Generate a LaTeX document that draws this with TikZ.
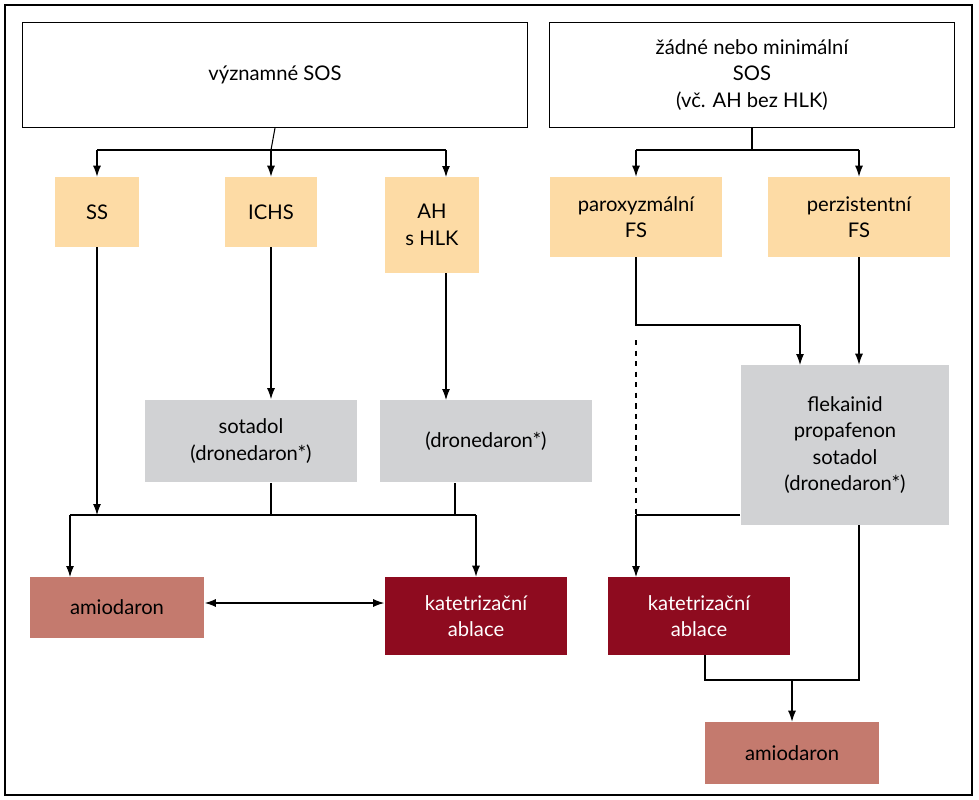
\documentclass[tikz,border=0pt]{standalone}
\usepackage{fontspec}
\setmainfont{Lato}
\usetikzlibrary{arrows.meta,calc}
\definecolor{orangebox}{HTML}{FDDBA5}
\definecolor{graybox}{HTML}{D1D2D4}
\definecolor{salmonbox}{HTML}{C47A6E}
\definecolor{redbox}{HTML}{8E0B1F}
\begin{document}
\begin{tikzpicture}[
    x=0.02cm, y=-0.02cm,
    every node/.style={align=center, inner sep=0pt, font=\fontsize{11.5}{15}\selectfont},
    head/.style={draw, fill=white, line width=0.6pt},
    group/.style={fill=orangebox},
    drug/.style={fill=graybox},
    amio/.style={fill=salmonbox},
    ablace/.style={fill=redbox, text=white},
    link/.style={line width=0.6pt},
    arr/.style={link, -{Latex[length=2.2mm,width=1.6mm]}}
]
\useasboundingbox (0,0) rectangle (979,800);
\draw[line width=0.6pt] (5,5) rectangle (972,795);
% top boxes
\node[head, minimum width=10.12cm, minimum height=2.1cm] (vyzn) at (275,75) {významné SOS};
\node[head, minimum width=8.1cm, minimum height=2.1cm] (zadne) at (752,75) {žádné nebo minimální\\SOS\\(vč. AH bez HLK)};
% groups
\node[group, minimum width=1.7cm, minimum height=1.4cm] (ss) at (97,212) {SS};
\node[group, minimum width=1.86cm, minimum height=1.4cm] (ichs) at (271,212) {ICHS};
\node[group, minimum width=1.9cm, minimum height=1.92cm] (ah) at (432,225) {AH\\s HLK};
\node[group, minimum width=3.44cm, minimum height=1.6cm] (parox) at (636,217) {paroxyzmální\\FS};
\node[group, minimum width=3.64cm, minimum height=1.6cm] (perz) at (859,217) {perzistentní\\FS};
% drugs
\node[drug, minimum width=4.24cm, minimum height=1.66cm] (sotadol) at (251,441) {sotadol\\(dronedaron*)};
\node[drug, minimum width=4.24cm, minimum height=1.66cm] (drone) at (486,441) {(dronedaron*)};
\node[drug, minimum width=4.18cm, minimum height=3.2cm] (flek) at (845,445) {flekainid\\propafenon\\sotadol\\(dronedaron*)};
% results
\node[amio, minimum width=3.5cm, minimum height=1.22cm] (amioL) at (117,607) {amiodaron};
\node[ablace, minimum width=3.66cm, minimum height=1.56cm] (ablL) at (476,616) {katetrizační\\ablace};
\node[ablace, minimum width=3.66cm, minimum height=1.56cm] (ablR) at (699,616) {katetrizační\\ablace};
\node[amio, minimum width=3.5cm, minimum height=1.24cm] (amioR) at (792,753) {amiodaron};
% junctions
\coordinate (j1) at (271,150);
\coordinate (j2) at (752,150);
\coordinate (j3) at (636,325);
\coordinate (j4) at (97,515);
\coordinate (j5) at (636,515);
\coordinate (j6) at (792,680);
% left branch
\draw[link] (vyzn.south) -- (j1);
\draw[link] (97,150) -- (446,150);
\draw[arr] (97,150) -- (ss.north);
\draw[arr] (j1) -- (ichs.north);
\draw[arr] (446,150) -- (446,177);
\draw[arr] (ss.south) -- (j4);
\draw[arr] (ichs.south) -- (sotadol.north -| ichs.south);
\draw[arr] (446,273) -- (446,400);
\draw[link] (sotadol.south -| ichs.south) -- (271,515);
\draw[link] (455,483) -- (455,515);
\draw[link] (70,515) -- (476,515);
\draw[arr] (70,515) -- (70,577);
\draw[arr] (476,515) -- (ablL.north);
\draw[link, {Latex[length=2.2mm,width=1.6mm]}-{Latex[length=2.2mm,width=1.6mm]}] (amioL.east |- 0,603) -- (ablL.west |- 0,603);
% right branch
\draw[link] (zadne.south) -- (j2);
\draw[link] (636,150) -- (859,150);
\draw[arr] (636,150) -- (parox.north);
\draw[arr] (859,150) -- (perz.north);
\draw[link] (parox.south) -- (j3) -- (800,325);
\draw[arr] (800,325) -- (800,365);
\draw[arr] (perz.south) -- (perz.south |- flek.north);
\draw[link, dashed] (636,340) -- (j5);
\draw[link] (flek.west |- j5) -- (j5);
\draw[arr] (j5) -- (636,577);
\draw[link] (859,525) -- (859,680) -- (705,680) -- (705,655);
\draw[arr] (j6) -- (amioR.north);
\end{tikzpicture}
\end{document}
